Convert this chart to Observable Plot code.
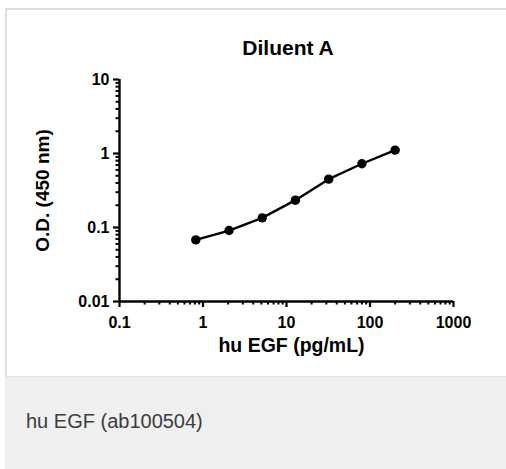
<!DOCTYPE html>
<html>
<head>
<meta charset="utf-8">
<script src="https://cdn.jsdelivr.net/npm/d3@7"></script>
<script src="https://cdn.jsdelivr.net/npm/@observablehq/plot@0.6"></script>
<style>
  html, body { margin: 0; padding: 0; background: #fff; width: 506px; height: 469px; overflow: hidden; }
  #card { position: absolute; left: 5px; top: 8px; width: 501px; height: 369px; box-sizing: border-box;
          border-top: 2px solid #dedede; border-left: 2px solid #dedede; background: #fff; }
  #chart { position: absolute; left: 7px; top: 10px; }
  #caption { position: absolute; left: 5px; top: 376px; width: 501px; height: 93px; box-sizing: border-box;
             background: #eeefee; border-top: 1px solid #e2e3e2; }
  #caption span { position: absolute; left: 21px; top: 34px; font: 20px/20px "Liberation Sans", Arial, sans-serif; color: #3c3c3c; }
</style>
</head>
<body>
<div id="card"></div>
<div id="chart"></div>
<div id="caption"><span>hu EGF (ab100504)</span></div>
<script>
// Data
const concentration = [0.82, 2.05, 5.12, 12.8, 32, 80, 200]; // hu EGF (pg/mL)
const opticalDensity = [0.068, 0.091, 0.135, 0.234, 0.45, 0.727, 1.11]; // O.D. (450 nm)

const xTicks = [0.1, 1, 10, 100, 1000];
const xTickLabels = ["0.1", "1", "10", "100", "1000"];
const yTicks = [0.01, 0.1, 1, 10];
const yTickLabels = ["0.01", "0.1", "1", "10"];
const minorMultipliers = [2, 3, 4, 5, 6, 7, 8, 9];
const xMinorTicks = [0.1, 1, 10, 100].flatMap(d => minorMultipliers.map(m => d * m));
const yMinorTicks = [0.01, 0.1, 1].flatMap(d => minorMultipliers.map(m => d * m));

const title = "Diluent A";
const xLabel = "hu EGF (pg/mL)";
const yLabel = "O.D. (450 nm)";

const data = concentration.map((c, i) => ({conc: c, od: opticalDensity[i]}));
const font = "'Liberation Sans', Arial, sans-serif";

const chart = Plot.plot({
  width: 499,
  height: 366,
  marginLeft: 112,
  marginRight: 53,
  marginTop: 69,
  marginBottom: 75,
  style: {fontFamily: font, fontWeight: "bold", color: "#000", background: "transparent", overflow: "visible"},
  x: {type: "log", domain: [0.1, 1000]},
  y: {type: "log", domain: [0.01, 10]},
  marks: [
    Plot.axisX({ticks: xMinorTicks, tickSize: 3.5, strokeWidth: 2, tickFormat: () => "", label: null}),
    Plot.axisY({ticks: yMinorTicks, tickSize: 3.5, strokeWidth: 2, tickFormat: () => "", label: null}),
    Plot.axisX({ticks: xTicks, tickSize: 6, strokeWidth: 2.2, tickFormat: () => "", label: null}),
    Plot.axisY({ticks: yTicks, tickSize: 6, strokeWidth: 2.2, tickFormat: () => "", label: null}),
    Plot.text(xTicks, {x: d => d, frameAnchor: "bottom", text: d => xTickLabels[xTicks.indexOf(d)],
                       lineAnchor: "top", dy: 15, fontSize: 16, fontWeight: "bold", fill: "#000"}),
    Plot.text(yTicks, {y: d => d, frameAnchor: "left", text: d => yTickLabels[yTicks.indexOf(d)],
                       textAnchor: "end", lineAnchor: "middle", dx: -10, fontSize: 16, fontWeight: "bold", fill: "#000"}),
    Plot.ruleY([0.01], {strokeWidth: 2.4}),
    Plot.ruleX([0.1], {strokeWidth: 2.4}),
    Plot.line(data, {x: "conc", y: "od", stroke: "#000", strokeWidth: 2.4}),
    Plot.dot(data, {x: "conc", y: "od", r: 4.7, fill: "#000", stroke: null}),
    Plot.text([title], {frameAnchor: "top", textAnchor: "middle", lineAnchor: "bottom", dy: -25, dx: 1.5, fontSize: 21, fontWeight: "bold"}),
    Plot.text([xLabel], {frameAnchor: "bottom", textAnchor: "middle", lineAnchor: "bottom", dy: 50, dx: 5, fontSize: 19.5, fontWeight: "bold"}),
    Plot.text([yLabel], {frameAnchor: "left", textAnchor: "middle", rotate: -90, lineAnchor: "middle", dx: -77, fontSize: 19, fontWeight: "bold"})
  ]
});
document.getElementById("chart").appendChild(chart);
</script>
</body>
</html>
